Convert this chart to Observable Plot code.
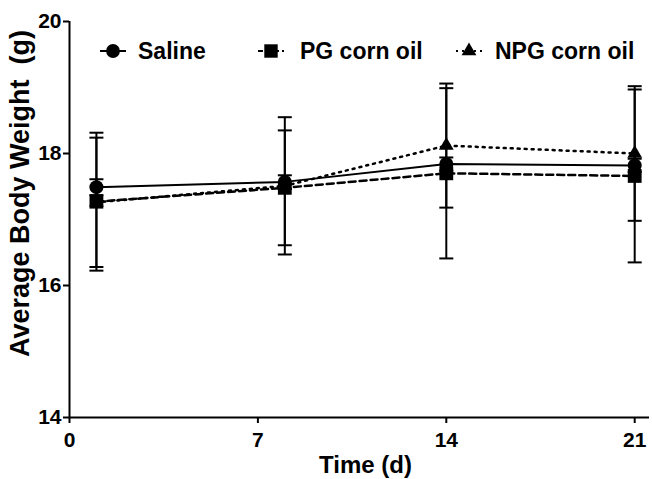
<!DOCTYPE html>
<html>
<head>
<meta charset="utf-8">
<script src="https://cdn.jsdelivr.net/npm/d3@7"></script>
<script src="https://cdn.jsdelivr.net/npm/@observablehq/plot@0.6"></script>
<style>
  html, body { margin: 0; padding: 0; background: #ffffff; }
  #wrap { position: relative; width: 652px; height: 479px; font-family: "Liberation Sans", Arial, sans-serif; font-weight: bold; }
  .leg { position: absolute; top: 39px; height: 24px; line-height: 24px; font-size: 23px; color: #000; white-space: nowrap; }
  .legsym { position: absolute; top: 41px; }
</style>
</head>
<body>
<div id="wrap"></div>
<script>
const days = [1, 8, 14, 21];
const seriesNames = ["Saline", "PG corn oil", "NPG corn oil"];
const salineMean = [17.49, 17.57, 17.84, 17.82];
const salineSD   = [0.12, 0.10, 0.10, 0.10];
const pgMean     = [17.27, 17.48, 17.70, 17.66];
const pgSD       = [1.045, 0.87, 1.29, 1.31];
const npgMean    = [17.26, 17.51, 18.12, 18.00];
const npgSD      = [0.98, 1.04, 0.94, 1.02];
const xTicks = [0, 7, 14, 21];
const yTicks = [14, 16, 18, 20];

const toRows = (name, means, sds) => days.map((d, i) => ({series: name, day: d, mean: means[i], sd: sds[i]}));
const saline = toRows(seriesNames[0], salineMean, salineSD);
const pg = toRows(seriesNames[1], pgMean, pgSD);
const npg = toRows(seriesNames[2], npgMean, npgSD);
const all = [...npg, ...saline, ...pg];

const cap = { draw(ctx) { ctx.moveTo(-7, 0); ctx.lineTo(7, 0); } };

const FONT = '"Liberation Sans", Arial, sans-serif';

const chart = Plot.plot({
  width: 652,
  height: 479,
  marginLeft: 69,
  marginTop: 21,
  marginBottom: 62,
  marginRight: 3,
  style: { fontFamily: FONT, fontWeight: "bold", fontSize: "21px", background: "#ffffff", color: "#000" },
  x: { domain: [0, 21.55] },
  y: { domain: [14, 20] },
  marks: [
    Plot.axisX({ ticks: xTicks, tickFormat: "d", tickSize: 6, tickPadding: 9, strokeWidth: 2, label: null, fontSize: 21 }),
    Plot.axisY({ ticks: yTicks, tickFormat: "d", tickSize: 6, tickPadding: 2, strokeWidth: 2, label: null, fontSize: 21 }),
    Plot.ruleX([0], { strokeWidth: 2 }),
    Plot.ruleY([14], { strokeWidth: 2 }),
    // error bars
    Plot.ruleX(all, { x: "day", y1: d => d.mean - d.sd, y2: d => d.mean + d.sd, strokeWidth: 2 }),
    Plot.dot(all, { x: "day", y: d => d.mean + d.sd, symbol: cap, stroke: "black", strokeWidth: 2 }),
    Plot.dot(all, { x: "day", y: d => d.mean - d.sd, symbol: cap, stroke: "black", strokeWidth: 2 }),
    // NPG
    Plot.line(npg, { x: "day", y: "mean", stroke: "black", strokeWidth: 2.5, strokeDasharray: "2,5" }),
    Plot.dot(npg, { x: "day", y: "mean", symbol: "triangle", r: 5.5, fill: "black" }),
    // Saline
    Plot.line(saline, { x: "day", y: "mean", stroke: "black", strokeWidth: 2 }),
    Plot.dot(saline, { x: "day", y: "mean", symbol: "circle", r: 7, fill: "black" }),
    // PG
    Plot.line(pg, { x: "day", y: "mean", stroke: "black", strokeWidth: 2.5, strokeDasharray: "7,4" }),
    Plot.dot(pg, { x: "day", y: "mean", symbol: "square", r: 7.8, fill: "black" }),
    // axis titles
    Plot.text(["Time (d)"], { frameAnchor: "bottom", dy: 55, dx: 6, fontSize: 24, fontWeight: "bold" }),
    Plot.text(["Average Body Weight  (g)"], { frameAnchor: "left", textAnchor: "middle", lineAnchor: "middle", rotate: -90, dx: -49, dy: -26, fontSize: 27, fontWeight: "bold" })
  ]
});

const wrap = document.getElementById("wrap");
wrap.appendChild(chart);

// legend overlay
const legendItems = [
  { name: seriesNames[0], sym: "circle", dash: null, symLeft: 99, textLeft: 138 },
  { name: seriesNames[1], sym: "square", dash: "5,3", symLeft: 257, textLeft: 300 },
  { name: seriesNames[2], sym: "triangle", dash: "2,4", symLeft: 455, textLeft: 495 }
];
for (const it of legendItems) {
  const s = d3.create("svg").attr("width", 28).attr("height", 20).attr("class", "legsym").style("left", it.symLeft + "px");
  s.append("line").attr("x1", 1).attr("x2", 27).attr("y1", 10).attr("y2", 10)
    .attr("stroke", "black").attr("stroke-width", 2).attr("stroke-dasharray", it.dash);
  const sym = it.sym === "circle" ? d3.symbolCircle : it.sym === "square" ? d3.symbolSquare : d3.symbolTriangle;
  const size = it.sym === "triangle" ? 95 : it.sym === "square" ? 180 : 150;
  s.append("path").attr("transform", "translate(14,10)").attr("d", d3.symbol(sym, size)()).attr("fill", "black");
  wrap.appendChild(s.node());
  const t = document.createElement("div");
  t.className = "leg";
  t.style.left = it.textLeft + "px";
  t.textContent = it.name;
  wrap.appendChild(t);
}
</script>
</body>
</html>
